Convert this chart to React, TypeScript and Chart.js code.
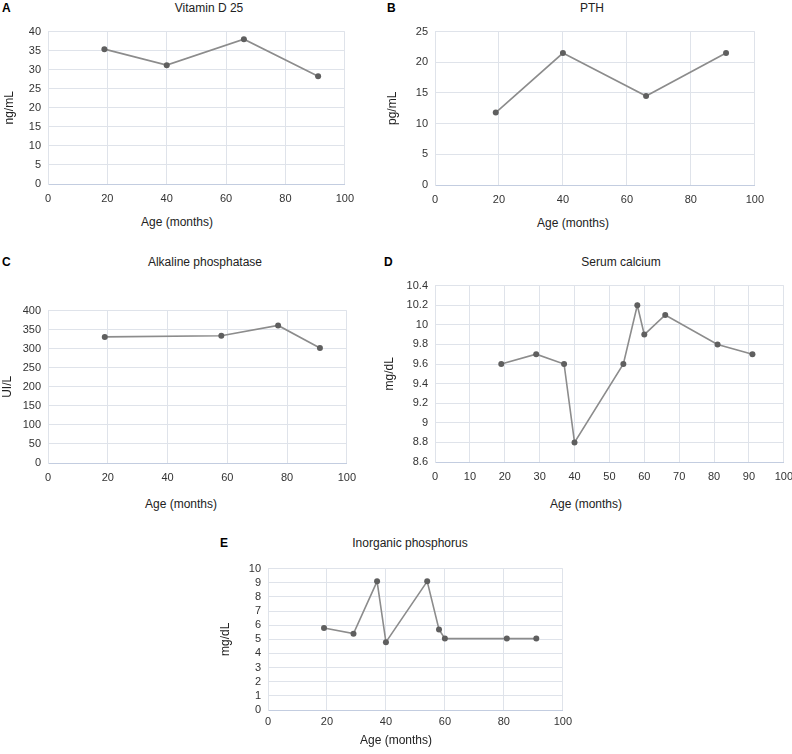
import React, { useEffect, useRef } from "react";
import { Chart, registerables } from "chart.js";

Chart.register(...registerables);

// ---- Data ----
const vitDAge = [19, 40, 66, 91];
const vitD = [35.4, 31.2, 38.0, 28.3];

const pthAge = [19, 40, 66, 91];
const pth = [11.8, 21.5, 14.5, 21.5];

const alpAge = [19, 58, 77, 91];
const alp = [331, 334, 361, 302];

const caAge = [19, 29, 37, 40, 54, 58, 60, 66, 81, 91];
const calcium = [9.6, 9.7, 9.6, 8.8, 9.6, 10.2, 9.9, 10.1, 9.8, 9.7];

const phAge = [19, 29, 37, 40, 54, 58, 60, 81, 91];
const phosphorus = [5.8, 5.4, 9.1, 4.8, 9.1, 5.7, 5.05, 5.05, 5.05];

const panelLetters = ["A", "B", "C", "D", "E"];
const panelTitles = ["Vitamin D 25", "PTH", "Alkaline phosphatase", "Serum calcium", "Inorganic phosphorus"];
const yTitles = ["ng/mL", "pg/mL", "UI/L", "mg/dL", "mg/dL"];
const xTitle = "Age (months)";

// axis ranges: [min, max, step]
const xRanges = [[0, 100, 20], [0, 100, 20], [0, 100, 20], [0, 100, 10], [0, 100, 20]];
const yRanges = [[0, 40, 5], [0, 25, 5], [0, 400, 50], [8.6, 10.4, 0.2], [0, 10, 1]];

const FONT = '"Liberation Sans", Arial, Helvetica, sans-serif';
const GRID = "#dfe3ea";
const AXIS = "#c3cde0";

type Box = { l: number; t: number; r: number; b: number };
type Layout = {
  box: Box;
  yTitleX: number;
  xPad: number;
  title: [number, number];
  letter: [number, number];
  xTitle: [number, number];
};

const layouts: Layout[] = [
  { box: { l: 48, t: 28, r: 348, b: 184 }, yTitleX: 9, xPad: 8, title: [209, 7.5], letter: [2, 7.5], xTitle: [177, 222] },
  { box: { l: 435, t: 28, r: 758, b: 185 }, yTitleX: 392, xPad: 8, title: [592, 7.5], letter: [387, 7.5], xTitle: [573, 223] },
  { box: { l: 48, t: 307, r: 350, b: 463 }, yTitleX: 7, xPad: 8, title: [205, 262], letter: [2, 262], xTitle: [181, 504] },
  { box: { l: 435, t: 282, r: 787, b: 462 }, yTitleX: 389, xPad: 8, title: [621, 262], letter: [384, 262], xTitle: [586, 504] },
  { box: { l: 268, t: 565, r: 563, b: 710 }, yTitleX: 225, xPad: 5, title: [410, 543], letter: [220, 543], xTitle: [396, 740] },
];

const seriesX = [vitDAge, pthAge, alpAge, caAge, phAge];
const seriesY = [vitD, pth, alp, calcium, phosphorus];

const TOP_PAD = 10;
const RIGHT_PAD = 14;
const X_H = 24;

function Panel({ idx }: { idx: number }) {
  const ref = useRef<HTMLCanvasElement | null>(null);
  const lay = layouts[idx];
  const { box } = lay;
  const canvasLeft = Math.round(lay.yTitleX - 7);
  const yW = box.l - canvasLeft;
  const width = yW + (box.r - box.l) + RIGHT_PAD;
  const height = TOP_PAD + (box.b - box.t) + X_H;

  useEffect(() => {
    if (!ref.current) return;
    const xs = seriesX[idx];
    const ys = seriesY[idx];
    const [xMin, xMax, xStep] = xRanges[idx];
    const [yMin, yMax, yStep] = yRanges[idx];
    const chart = new Chart(ref.current, {
      type: "line",
      data: {
        datasets: [
          {
            data: xs.map((x, i) => ({ x, y: ys[i] })),
            borderColor: "#8c8c8c",
            borderWidth: 1.6,
            pointRadius: 3,
            pointBackgroundColor: "#5f5f5f",
            pointBorderColor: "#5f5f5f",
            pointBorderWidth: 0,
            tension: 0,
            fill: false,
          },
        ],
      },
      options: {
        responsive: false,
        animation: false,
        layout: { padding: { top: TOP_PAD, right: RIGHT_PAD, left: 0, bottom: 0 } },
        plugins: { legend: { display: false }, tooltip: { enabled: false }, title: { display: false } },
        scales: {
          x: {
            type: "linear",
            min: xMin,
            max: xMax,
            ticks: {
              stepSize: xStep,
              padding: lay.xPad,
              autoSkip: false,
              maxRotation: 0,
              color: "#333",
              font: { family: FONT, size: 11 },
            },
            grid: { color: GRID, drawTicks: false, lineWidth: 1 },
            border: { color: AXIS, width: 1 },
            afterFit: (s: any) => {
              s.height = X_H;
            },
          },
          y: {
            type: "linear",
            min: yMin,
            max: yMax,
            ticks: {
              stepSize: yStep,
              padding: 7,
              autoSkip: false,
              color: "#333",
              font: { family: FONT, size: 11 },
              callback: (v: any) => String(Math.round(Number(v) * 10) / 10),
            },
            grid: { color: GRID, drawTicks: false, lineWidth: 1 },
            border: { color: GRID, width: 1 },
            title: {
              display: true,
              text: yTitles[idx],
              color: "#222",
              font: { family: FONT, size: 12 },
              padding: 0,
            },
            afterFit: (s: any) => {
              s.width = yW;
            },
          },
        },
      },
    });
    return () => chart.destroy();
  }, [idx]);

  const textBase: React.CSSProperties = {
    position: "absolute",
    fontFamily: FONT,
    whiteSpace: "nowrap",
    lineHeight: "14px",
    height: 14,
    color: "#222",
  };

  return (
    <>
      <canvas
        ref={ref}
        width={width}
        height={height}
        style={{ position: "absolute", left: canvasLeft, top: box.t - TOP_PAD, width, height }}
      />
      <div style={{ ...textBase, left: lay.letter[0], top: lay.letter[1] - 7, fontSize: 12, fontWeight: "bold", color: "#000" }}>
        {panelLetters[idx]}
      </div>
      <div style={{ ...textBase, left: lay.title[0], top: lay.title[1] - 7, fontSize: 12, transform: "translateX(-50%)" }}>
        {panelTitles[idx]}
      </div>
      <div style={{ ...textBase, left: lay.xTitle[0], top: lay.xTitle[1] - 7, fontSize: 12, transform: "translateX(-50%)" }}>
        {xTitle}
      </div>
    </>
  );
}

export default function App() {
  return (
    <div
      style={{
        position: "fixed",
        left: 0,
        top: 0,
        width: 792,
        height: 754,
        overflow: "hidden",
        background: "#fff",
      }}
    >
      {layouts.map((_, i) => (
        <Panel key={i} idx={i} />
      ))}
    </div>
  );
}
